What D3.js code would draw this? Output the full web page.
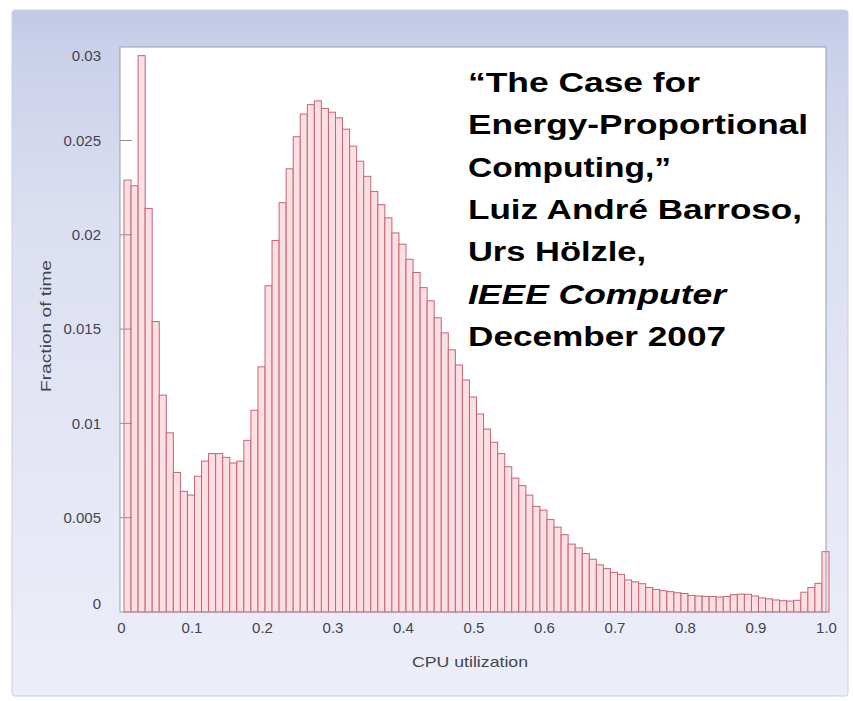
<!DOCTYPE html>
<html>
<head>
<meta charset="utf-8">
<script src="https://cdn.jsdelivr.net/npm/d3@7"></script>
<style>
  html, body { margin: 0; padding: 0; background: #ffffff; }
  svg { display: block; }
</style>
</head>
<body>
<svg id="chart" width="853" height="701"></svg>
<script>
// Histogram of server CPU utilization: fraction of time spent in each 1% bin.
const binStart = [
  0.00, 0.01, 0.02, 0.03, 0.04, 0.05, 0.06, 0.07, 0.08, 0.09,
  0.10, 0.11, 0.12, 0.13, 0.14, 0.15, 0.16, 0.17, 0.18, 0.19,
  0.20, 0.21, 0.22, 0.23, 0.24, 0.25, 0.26, 0.27, 0.28, 0.29,
  0.30, 0.31, 0.32, 0.33, 0.34, 0.35, 0.36, 0.37, 0.38, 0.39,
  0.40, 0.41, 0.42, 0.43, 0.44, 0.45, 0.46, 0.47, 0.48, 0.49,
  0.50, 0.51, 0.52, 0.53, 0.54, 0.55, 0.56, 0.57, 0.58, 0.59,
  0.60, 0.61, 0.62, 0.63, 0.64, 0.65, 0.66, 0.67, 0.68, 0.69,
  0.70, 0.71, 0.72, 0.73, 0.74, 0.75, 0.76, 0.77, 0.78, 0.79,
  0.80, 0.81, 0.82, 0.83, 0.84, 0.85, 0.86, 0.87, 0.88, 0.89,
  0.90, 0.91, 0.92, 0.93, 0.94, 0.95, 0.96, 0.97, 0.98, 0.99
];
const binWidth = 0.01;

const fractionOfTime = [
  0.0229, 0.0226, 0.0295, 0.0214, 0.0154, 0.0115, 0.0095, 0.0074, 0.0064, 0.0062,
  0.0072, 0.0080, 0.0084, 0.0084, 0.0082, 0.0079, 0.0080, 0.0091, 0.0107, 0.0130,
  0.0173, 0.0197, 0.0217, 0.0235, 0.0252, 0.0264, 0.0269, 0.0271, 0.0267, 0.0265,
  0.0262, 0.0256, 0.0247, 0.0239, 0.0231, 0.0223, 0.0216, 0.0209, 0.0201, 0.0195,
  0.0187, 0.0180, 0.0172, 0.0165, 0.0156, 0.0148, 0.0139, 0.0131, 0.0123, 0.0114,
  0.0105, 0.0097, 0.0090, 0.0084, 0.0077, 0.0071, 0.0067, 0.0062, 0.0056, 0.0054,
  0.0049, 0.0045, 0.0041, 0.0036, 0.0034, 0.0031, 0.0028, 0.0025, 0.0023, 0.0021,
  0.0020, 0.0017, 0.0016, 0.0015, 0.0013, 0.0012, 0.00113, 0.00108, 0.00102, 0.00098,
  0.00088, 0.00085, 0.00083, 0.00082, 0.00080, 0.00082, 0.00092, 0.00095, 0.00094, 0.00085,
  0.00075, 0.00070, 0.00064, 0.00060, 0.00058, 0.00062, 0.00105, 0.00130, 0.00152, 0.00320
];

const xTickValues = [0, 0.1, 0.2, 0.3, 0.4, 0.5, 0.6, 0.7, 0.8, 0.9, 1.0];
const xTickLabels = ["0", "0.1", "0.2", "0.3", "0.4", "0.5", "0.6", "0.7", "0.8", "0.9", "1.0"];
const yTickValues = [0, 0.005, 0.01, 0.015, 0.02, 0.025, 0.03];
const yTickLabels = ["0", "0.005", "0.01", "0.015", "0.02", "0.025", "0.03"];

const xTitle = "CPU utilization";
const yTitle = "Fraction of time";

// Citation block lines, which ones are italic, and their set widths
const citationLines = ["\u201CThe Case for", "Energy-Proportional", "Computing,\u201D",
                       "Luiz Andr\u00E9 Barroso,", "Urs H\u00F6lzle,", "IEEE Computer", "December 2007"];
const citationItalic = [false, false, false, false, false, true, false];
const citationWidth = [232, 340, 203, 334, 178, 258, 258];

const svg = d3.select("#chart");
const font = "'Liberation Sans', Arial, Helvetica, sans-serif";

// Panel background
const defs = svg.append("defs");
const grad = defs.append("linearGradient").attr("id", "panelGrad")
  .attr("x1", 0).attr("y1", 0).attr("x2", 0).attr("y2", 1);
grad.append("stop").attr("offset", "0%").attr("stop-color", "#c2c8e6");
grad.append("stop").attr("offset", "6%").attr("stop-color", "#cbd0ea");
grad.append("stop").attr("offset", "30%").attr("stop-color", "#dcdff1");
grad.append("stop").attr("offset", "100%").attr("stop-color", "#eceef8");

svg.append("rect")
  .attr("x", 12).attr("y", 10).attr("width", 836).attr("height", 686)
  .attr("rx", 3)
  .attr("fill", "url(#panelGrad)")
  .attr("stroke", "#c9cde6").attr("stroke-width", 1);

// Plot area
const plot = { left: 120, right: 826, top: 47, bottom: 612 };
const x = d3.scaleLinear().domain([0, 1]).range([124, 829]);
const y = d3.scaleLinear().domain([0, 0.03]).range([612, 46.2]);

svg.append("rect")
  .attr("x", plot.left).attr("y", plot.top)
  .attr("width", plot.right - plot.left).attr("height", plot.bottom - plot.top)
  .attr("fill", "#ffffff");

// Bars
svg.append("g").selectAll("rect")
  .data(fractionOfTime)
  .join("rect")
  .attr("x", (d, i) => x(binStart[i]))
  .attr("width", (d, i) => x(binStart[i] + binWidth) - x(binStart[i]))
  .attr("y", d => y(d))
  .attr("height", d => y(0) - y(d))
  .attr("fill", "#fbdfe4")
  .attr("stroke", "#c46673")
  .attr("stroke-width", 1);

// Inner tick marks on the left edge
svg.append("g").selectAll("line")
  .data(yTickValues.filter(v => v > 0 && v < 0.03))
  .join("line")
  .attr("x1", plot.left).attr("x2", plot.left + 12)
  .attr("y1", d => y(d)).attr("y2", d => y(d))
  .attr("stroke", "#8c8c96").attr("stroke-width", 1);

// Frame
svg.append("rect")
  .attr("x", plot.left).attr("y", plot.top)
  .attr("width", plot.right - plot.left).attr("height", plot.bottom - plot.top)
  .attr("fill", "none").attr("stroke", "#9a9cab").attr("stroke-width", 1);

// Y axis labels
const yAxis = d3.axisLeft(y)
  .tickValues(yTickValues)
  .tickFormat((d, i) => yTickLabels[i])
  .tickSize(0).tickPadding(19);
const yg = svg.append("g").attr("transform", `translate(${plot.left},0)`).call(yAxis);
yg.select(".domain").remove();
yg.selectAll("text")
  .attr("font-family", font).attr("font-size", 15).attr("fill", "#44444f")
  .attr("dy", (d, i) => i === 0 ? "-0.25em" : (i === yTickValues.length - 1 ? "0.95em" : "0.32em"));

// X axis labels
const xAxis = d3.axisBottom(x)
  .tickValues(xTickValues)
  .tickFormat((d, i) => xTickLabels[i])
  .tickSize(0).tickPadding(10);
const xg = svg.append("g").attr("transform", `translate(-3,${plot.bottom})`).call(xAxis);
xg.select(".domain").remove();
xg.selectAll("text")
  .attr("font-family", font).attr("font-size", 15).attr("fill", "#44444f");

// Axis titles
svg.append("text")
  .attr("x", 470).attr("y", 667)
  .attr("text-anchor", "middle")
  .attr("font-family", font).attr("font-size", 15).attr("fill", "#44444f")
  .attr("textLength", 116).attr("lengthAdjust", "spacingAndGlyphs")
  .text(xTitle);

svg.append("text")
  .attr("transform", "translate(51,326) rotate(-90)")
  .attr("text-anchor", "middle")
  .attr("font-family", font).attr("font-size", 15).attr("fill", "#44444f")
  .attr("textLength", 132).attr("lengthAdjust", "spacingAndGlyphs")
  .text(yTitle);

// Citation text
svg.append("g").selectAll("text")
  .data(citationLines)
  .join("text")
  .attr("x", 468)
  .attr("y", (d, i) => 92 + i * 42.3)
  .attr("font-family", font)
  .attr("font-weight", "bold")
  .attr("font-style", (d, i) => citationItalic[i] ? "italic" : "normal")
  .attr("font-size", 28)
  .attr("fill", "#000000")
  .attr("textLength", (d, i) => citationWidth[i])
  .attr("lengthAdjust", "spacingAndGlyphs")
  .text(d => d);
</script>
</body>
</html>
